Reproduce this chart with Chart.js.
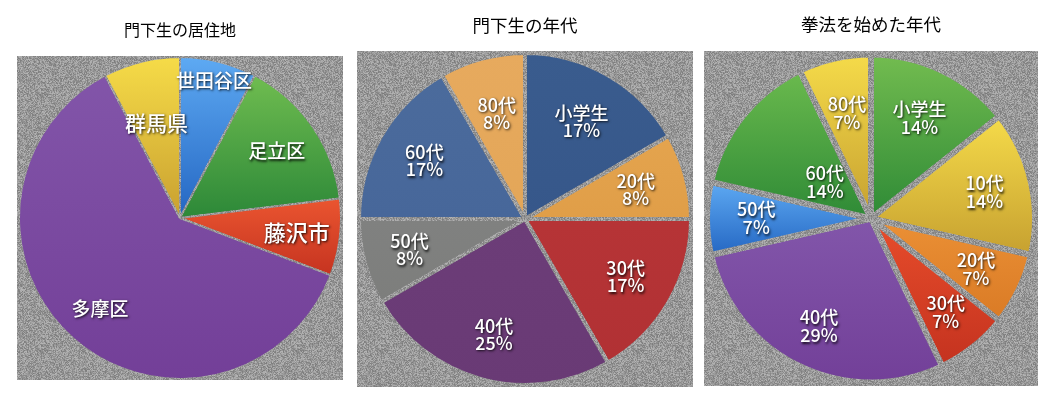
<!DOCTYPE html>
<html><head><meta charset="utf-8">
<script src="https://cdn.jsdelivr.net/npm/chart.js@4.4.1/dist/chart.umd.min.js"></script>
<style>
html,body{margin:0;padding:0;background:#fff;width:1055px;height:402px;overflow:hidden}
canvas{position:absolute;top:0}
</style></head><body>
<canvas id="c1" width="326" height="380" style="left:17px;width:326px;height:380px"></canvas>
<canvas id="c2" width="336" height="387" style="left:357px;width:336px;height:387px"></canvas>
<canvas id="c3" width="334" height="386" style="left:704px;width:334px;height:386px"></canvas>
<script>
// ---- data ----
const residenceTitle = '門下生の居住地';
const residenceLabels = ['世田谷区','足立区','藤沢市','多摩区','群馬県'];
const residenceCounts = [1, 2, 1, 8, 1];

const ageTitle = '門下生の年代';
const ageLabels = ['小学生','20代','30代','40代','50代','60代','80代'];
const ageCounts = [2, 1, 2, 3, 1, 2, 1];

const startTitle = '拳法を始めた年代';
const startLabels = ['小学生','10代','20代','30代','40代','50代','60代','80代'];
const startCounts = [2, 2, 1, 1, 4, 1, 2, 1];

// ---- styles ----
const FONT = "'Noto Sans CJK JP', 'Noto Sans', sans-serif";
const residenceTop = ['#5eaaf3','#70bd50','#ea5530','#8255a9','#f6dc48'];
const residenceBot = ['#2466c2','#2c8838','#c53320','#733f98','#c9a030'];
const ageTop = ['#3a5c8e','#e4a44e','#b63436','#6c3d78','#808180','#4b6b9c','#e7aa5e'];
const ageBot = ['#36578a','#e09e48','#b13134','#693a75','#7d7e7c','#47679a','#e3a658'];
const startTop = ['#74bd50','#f6dc4a','#eb9035','#e84d2b','#8256aa','#5eaaf3','#6cbb4e','#f6dc4a'];
const startBot = ['#2e8a36','#c6a030','#d97a25','#c3321f','#723f98','#2466c2','#2e8a36','#c6a030'];

function makeNoise() {
  const c = document.createElement('canvas');
  c.width = c.height = 128;
  const g = c.getContext('2d');
  const img = g.createImageData(128, 128);
  let s = 987654321;
  for (let i = 0; i < 128 * 128; i++) {
    s = (s * 1103515245 + 12345) & 0x7fffffff;
    const v = 124 + ((s >> 8) % 58);
    img.data[i*4] = v; img.data[i*4+1] = v; img.data[i*4+2] = v; img.data[i*4+3] = 255;
  }
  g.putImageData(img, 0, 0);
  return c;
}
const noiseCanvas = makeNoise();

function sliceGradient(ctx, tops, bots) {
  const chart = ctx.chart, ca = chart.chartArea, i = ctx.dataIndex;
  if (!ca) return tops[i];
  const data = ctx.dataset.data;
  const total = data.reduce((a, b) => a + b, 0);
  let cum = 0;
  for (let k = 0; k < i; k++) cum += data[k];
  const a0 = -Math.PI / 2 + cum / total * 2 * Math.PI;
  const a1 = a0 + data[i] / total * 2 * Math.PI;
  const cy = (ca.top + ca.bottom) / 2, r = Math.min(ca.width, ca.height) / 2;
  let ymin = cy, ymax = cy;
  for (let s = 0; s <= 64; s++) {
    const y = cy + r * Math.sin(a0 + (a1 - a0) * s / 64);
    ymin = Math.min(ymin, y); ymax = Math.max(ymax, y);
  }
  const g = chart.ctx.createLinearGradient(0, ymin, 0, ymax + 0.01);
  g.addColorStop(0, tops[i]); g.addColorStop(1, bots[i]);
  return g;
}

const bgPlugin = {
  id: 'noiseBg',
  beforeDatasetsDraw(chart) {
    const {ctx, chartArea: ca} = chart;
    ctx.save();
    ctx.fillStyle = ctx.createPattern(noiseCanvas, 'repeat');
    ctx.fillRect(ca.left, ca.top, ca.width, ca.height);
    ctx.restore();
  }
};

function labelPlugin(cfg) {
  return {
    id: 'sliceText',
    afterDatasetsDraw(chart) {
      const ctx = chart.ctx;
      const meta = chart.getDatasetMeta(0);
      const data = chart.data.datasets[0].data;
      const total = data.reduce((a, b) => a + b, 0);
      ctx.save();
      ctx.textAlign = 'center';
      ctx.textBaseline = 'middle';
      ctx.fillStyle = '#ffffff';
      ctx.shadowColor = 'rgba(0,0,0,0.85)';
      ctx.shadowOffsetX = 1;
      ctx.shadowOffsetY = 1.5;
      ctx.shadowBlur = 2.5;
      meta.data.forEach((el, i) => {
        const mid = (el.startAngle + el.endAngle) / 2;
        const d = el.outerRadius * cfg.radii[i];
        const x = el.x + Math.cos(mid) * d;
        const y = el.y + Math.sin(mid) * d;
        const size = cfg.sizes ? cfg.sizes[i] : cfg.size;
        ctx.font = (cfg.weight || 'normal') + ' ' + size + 'px ' + FONT;
        const lines = cfg.pct
          ? [chart.data.labels[i], Math.round(data[i] / total * 100) + '%']
          : [chart.data.labels[i]];
        const lh = cfg.lineHeight || size;
        lines.forEach((t, k) => {
          ctx.fillText(t, x, y + (k - (lines.length - 1) / 2) * lh);
        });
      });
      ctx.restore();
    }
  };
}

function makePie(id, title, labels, counts, tops, bots, border, titleFont, titlePad, labelCfg) {
  const canvasEl = document.getElementById(id);
  const pattern = canvasEl.getContext('2d').createPattern(noiseCanvas, 'repeat');
  return new Chart(canvasEl, {
    type: 'pie',
    data: {
      labels: labels,
      datasets: [{
        data: counts,
        backgroundColor: (c) => sliceGradient(c, tops, bots),
        borderColor: pattern,
        borderWidth: border
      }]
    },
    options: {
      responsive: false,
      animation: false,
      events: [],
      layout: {padding: 0},
      plugins: {
        legend: {display: false},
        tooltip: {enabled: false},
        title: {
          display: true,
          text: title,
          color: '#000000',
          font: {family: FONT, size: titleFont, weight: 'normal', lineHeight: 1.2},
          padding: titlePad
        }
      }
    },
    plugins: [bgPlugin, labelPlugin(labelCfg)]
  });
}

makePie('c1', residenceTitle, residenceLabels, residenceCounts, residenceTop, residenceBot, 2,
  16, {top: 20.4, bottom: 16.4},
  {radii: [0.88, 0.73, 0.73, 0.75, 0.61], sizes: [19, 19, 22, 19, 21], weight: '500', pct: false});
makePie('c2', ageTitle, ageLabels, ageCounts, ageTop, ageBot, 4,
  17.5, {top: 14.5, bottom: 15.5},
  {radii: [0.68, 0.69, 0.70, 0.72, 0.72, 0.70, 0.66], size: 18, lineHeight: 17, weight: '500', pct: true});
makePie('c3', startTitle, startLabels, startCounts, startTop, startBot, 6,
  17.5, {top: 13.5, bottom: 16.5},
  {radii: [0.68, 0.71, 0.71, 0.73, 0.73, 0.70, 0.36, 0.66], size: 18, lineHeight: 18, weight: '500', pct: true});
</script>
</body></html>
